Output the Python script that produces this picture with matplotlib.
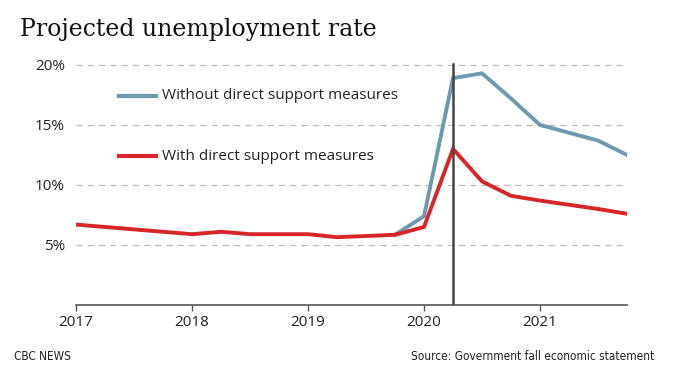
import matplotlib
matplotlib.use("Agg")
import matplotlib.pyplot as plt
import numpy as np

quarters = [2017.0, 2017.25, 2017.5, 2017.75, 2018.0, 2018.25, 2018.5, 2018.75,
            2019.0, 2019.25, 2019.5, 2019.75, 2020.0, 2020.25, 2020.5, 2020.75,
            2021.0, 2021.25, 2021.5, 2021.75]
with_support = [6.7, 6.5, 6.3, 6.1, 5.9, 6.1, 5.9, 5.9,
                5.9, 5.65, 5.75, 5.85, 6.5, 13.0, 10.3, 9.1,
                8.7, 8.35, 8.0, 7.6]
without_quarters = [2019.75, 2020.0, 2020.25, 2020.5, 2020.75, 2021.0, 2021.25, 2021.5, 2021.75]
without_support = [5.85, 7.4, 18.9, 19.3, 17.2, 15.0, 14.35, 13.7, 12.5]
marker_year = 2020.25
yticks = [5, 10, 15, 20]
ytick_labels = ["5%", "10%", "15%", "20%"]
xticks = [2017, 2018, 2019, 2020, 2021]

BLUE = "#6e9ab0"
RED = "#d7262a"
SANS = ["Open Sans", "DejaVu Sans"]

fig = plt.figure(figsize=(6.87, 3.76), dpi=100)
ax = fig.add_axes([0.1106, 0.1888, 0.8021, 0.6545])

for y in yticks:
    ax.axhline(y, color="#bbbbbb", lw=0.9, ls=(0, (5, 4)), zorder=1)

ax.plot(quarters, with_support, color=RED, lw=2.8, solid_joinstyle="miter", zorder=3)
ax.plot(without_quarters, without_support, color=BLUE, lw=2.8, solid_joinstyle="miter", zorder=2)
ax.plot([marker_year, marker_year], [0, 20.1], color="#444444", lw=1.8, zorder=4)

ax.set_xlim(2017, 2021.75)
ax.set_ylim(0, 20.5)
ax.set_yticks(yticks)
ax.set_yticklabels(ytick_labels, family=SANS, fontsize=11)
ax.set_xticks(xticks)
ax.set_xticklabels([str(x) for x in xticks], family=SANS, fontsize=11)
ax.tick_params(axis="y", length=0, pad=8, colors="#222222")
ax.tick_params(axis="x", length=4, width=1, color="#555555", pad=3, labelcolor="#222222")
for s in ["top", "right", "left"]:
    ax.spines[s].set_visible(False)
ax.spines["bottom"].set_color("#555555")
ax.spines["bottom"].set_linewidth(1.2)

# legend drawn as lines + text in axes coordinates
def leg(yfrac, color, label):
    ax.plot([0.078, 0.146], [yfrac, yfrac], transform=ax.transAxes, color=color, lw=3, clip_on=False)
    ax.text(0.157, yfrac, label, transform=ax.transAxes, va="center", ha="left",
            family=SANS, fontsize=11, color="#222222")

leg(0.85, BLUE, "Without direct support measures")
leg(0.605, RED, "With direct support measures")

fig.text(0.029, 0.905, "Projected unemployment rate", family=["DejaVu Serif"], fontsize=17,
         color="#111111", va="baseline", ha="left")
fig.text(0.020, 0.043, "CBC NEWS", family=["DejaVu Sans"], fontstretch="condensed", fontsize=8.5,
         color="#222222", va="baseline")
fig.text(0.952, 0.043, "Source: Government fall economic statement",
         family=["DejaVu Sans"], fontstretch="condensed", fontsize=8.5, color="#222222",
         va="baseline", ha="right")

fig.savefig("out.png", dpi=100, facecolor="white")
